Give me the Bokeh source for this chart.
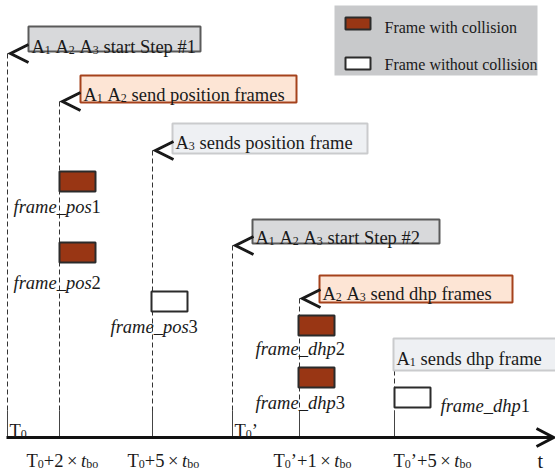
from bokeh.plotting import figure
from bokeh.models import Range1d
from bokeh.embed import file_html
from bokeh.resources import INLINE
from bokeh.core.properties import value

FONT = "Liberation Serif"

# ---------------- data ----------------
# schematic positions of the events along the t axis
event_x = [7, 59, 152, 232, 299, 394]
event_start_y = [53, 101, 150, 245, 298, 370]
axis_y = 437

tick_events = [1, 2, 4, 5]
tick_labels = ["T[0]+2×<t>[bo]", "T[0]+5×<t>[bo]", "T[0]’+1×<t>[bo]", "T[0]’+5×<t>[bo]"]
tick_label_x = [26, 127, 273, 393]
tick_label_baseline = 460
origin_events = [0, 3]
origin_labels = ["T[0]", "T[0]’"]

# annotation boxes
box_texts = ["A[1] A[2] A[3] start Step #1", "A[1] A[2] send position frames",
             "A[3] sends position frame", "A[1] A[2] A[3] start Step #2",
             "A[2] A[3] send dhp frames", "A[1] sends dhp frame"]
box_kind = ["step", "send", "solo", "step", "send", "solo"]
box_event = [0, 1, 2, 3, 4, 5]
box_left = [28, 80, 172, 252, 319, 393]
box_right = [200, 296, 367, 439, 512, 562]
box_top = [26, 75, 123, 219, 275, 338]
box_bottom = [51, 102, 153, 243, 302, 370]
box_baseline = [46, 94, 142, 237, 293, 358]
box_arrow = [True, True, True, True, True, False]

# frames
frame_names = ["<frame_pos>1", "<frame_pos>2", "<frame_pos>3",
               "<frame_dhp>2", "<frame_dhp>3", "<frame_dhp>1"]
frame_collision = [True, True, False, True, True, False]
frame_left = [59, 59, 151, 298, 298, 394]
frame_top = [171, 242, 291, 315, 367, 387]
frame_label_x = [13, 13, 110, 255, 255, 440]
frame_label_y = [206, 282, 326, 348, 402, 405]

legend_labels = ["Frame with collision", "Frame without collision"]

# ---------------- styles ----------------
KIND_FILL = {"step": "#d8d9db", "send": "#fde5d5", "solo": "#eef0f3"}
KIND_LINE = {"step": "#5a5a5a", "send": "#a5421c", "solo": "#cacbcd"}
COLL_FILL = "#993614"
EDGE = "#2b2b2b"
FW, FH = 36, 20

W_R = {' ': 250, '#': 500, '’': 333, '+': 564, 'A': 722, 'F': 556, 'S': 556, 'T': 611,
       'a': 444, 'b': 500, 'c': 444, 'd': 500, 'e': 444, 'f': 333, 'h': 500, 'i': 278,
       'l': 278, 'm': 778, 'n': 500, 'o': 500, 'p': 500, 'r': 333, 's': 389, 't': 278,
       'w': 722, '_': 500, 'u': 500}
W_I = {'a': 500, 'd': 500, 'e': 444, 'f': 278, 'h': 500, 'm': 722, 'o': 500, 'p': 500,
       'r': 389, 's': 389, 't': 278, '_': 500}


def parse(s):
    segs, buf, mode = [], "", "r"
    for ch in s:
        if ch in "[]<>×":
            if buf:
                segs.append((buf, mode))
            buf = ""
            if ch == "[":
                mode = "s"
            elif ch == "<":
                mode = "i"
            elif ch in "]>":
                mode = "r"
            else:
                segs.append(("×", "x"))
        else:
            buf += ch
    if buf:
        segs.append((buf, mode))
    return segs


pieces = []  # (x, y, text, size, style)


def tw(txt, table, size):
    return sum(table.get(c, 500) for c in txt) / 1000 * size


def layout(s, x, y, size):
    for txt, mode in parse(s):
        if mode == "x":
            w = 0.95 * size
            pieces.append((x + (w - 0.564 * size) / 2, y, txt, size, "normal"))
            x += w
            continue
        if mode == "s":
            sz, yy, table, st = size * 0.65, y + 0.17 * size, W_R, "normal"
        elif mode == "i":
            sz, yy, table, st = size, y, W_I, "italic"
        else:
            sz, yy, table, st = size, y, W_R, "normal"
        lead = len(txt) - len(txt.lstrip(" "))
        x += tw(" " * lead, W_R, sz)
        core = txt.strip(" ")
        if core:
            pieces.append((x, yy, core, sz, st))
            x += tw(core, table, sz)
        trail = len(txt.lstrip(" ")) - len(core)
        x += tw(" " * trail, W_R, sz)


# ---------------- figure ----------------
p = figure(width=555, height=471, output_backend="svg", toolbar_location=None,
           x_range=Range1d(0, 555), y_range=Range1d(471, 0),
           min_border=0, outline_line_color=None)
p.axis.visible = False
p.grid.visible = False

# legend
p.quad(left=[334], right=[537], top=[5], bottom=[75], fill_color="#c8c9cb", line_color=None)
p.quad(left=[345, 345], right=[370, 370], top=[17, 57], bottom=[29, 69],
       fill_color=[COLL_FILL, "white"], line_color=EDGE, line_width=2)
for lab, yb in zip(legend_labels, [27, 64]):
    layout(lab, 384, yb, 16)

# dashed event lines
p.multi_line(xs=[[x, x] for x in event_x], ys=[[y, axis_y] for y in event_start_y],
             line_color="#333333", line_width=1, line_dash="5 3")
# solid ticks
p.multi_line(xs=[[x, x] for x in event_x], ys=[[410, axis_y] for _ in event_x],
             line_color="#444444", line_width=1)

# time axis with arrow
p.line(x=[6, 552], y=[axis_y, axis_y], line_color="#111111", line_width=3)
p.line(x=[536, 553, 536], y=[axis_y - 9, axis_y, axis_y + 9], line_color="#111111",
       line_width=3, line_join="miter")

# boxes
p.quad(left=box_left, right=box_right, top=box_top, bottom=box_bottom,
       fill_color=[KIND_FILL[k] for k in box_kind],
       line_color=[KIND_LINE[k] for k in box_kind], line_width=2)
ax, ay = [], []
for i, has in enumerate(box_arrow):
    if has:
        tx = event_x[box_event[i]] + 3
        ty = event_start_y[box_event[i]]
        ax.append([tx + 18, tx, tx + 18])
        ay.append([ty - 9, ty, ty + 9])
p.multi_line(xs=ax, ys=ay, line_color="#1a1a1a", line_width=3, line_join="miter")
for t, l, yb in zip(box_texts, box_left, box_baseline):
    layout(t, l + 3, yb, 18.5)

# frames
p.quad(left=frame_left, right=[l + FW for l in frame_left], top=frame_top,
       bottom=[t + FH for t in frame_top],
       fill_color=[COLL_FILL if c else "white" for c in frame_collision],
       line_color=EDGE, line_width=2)
for n, x, y in zip(frame_names, frame_label_x, frame_label_y):
    layout(n, x, y, 18.5)

# axis labels
for e, lab in zip(origin_events, origin_labels):
    layout(lab, event_x[e] + 2, 430, 18.5)
for lab, x in zip(tick_labels, tick_label_x):
    layout(lab, x, tick_label_baseline, 18.5)
layout("t", 537, tick_label_baseline, 20)

# draw text pieces grouped by size/style
groups = {}
for x, y, txt, sz, st in pieces:
    groups.setdefault((sz, st), []).append((x, y, txt))
for (sz, st), items in groups.items():
    p.text(x=[i[0] for i in items], y=[i[1] for i in items], text=[i[2] for i in items],
           text_font=value(FONT), text_font_size=value(f"{sz:.1f}px"),
           text_font_style=st, text_color="#1a1a1a",
           text_baseline="alphabetic", text_align="left")

open("out.html", "w").write(file_html(p, INLINE))
